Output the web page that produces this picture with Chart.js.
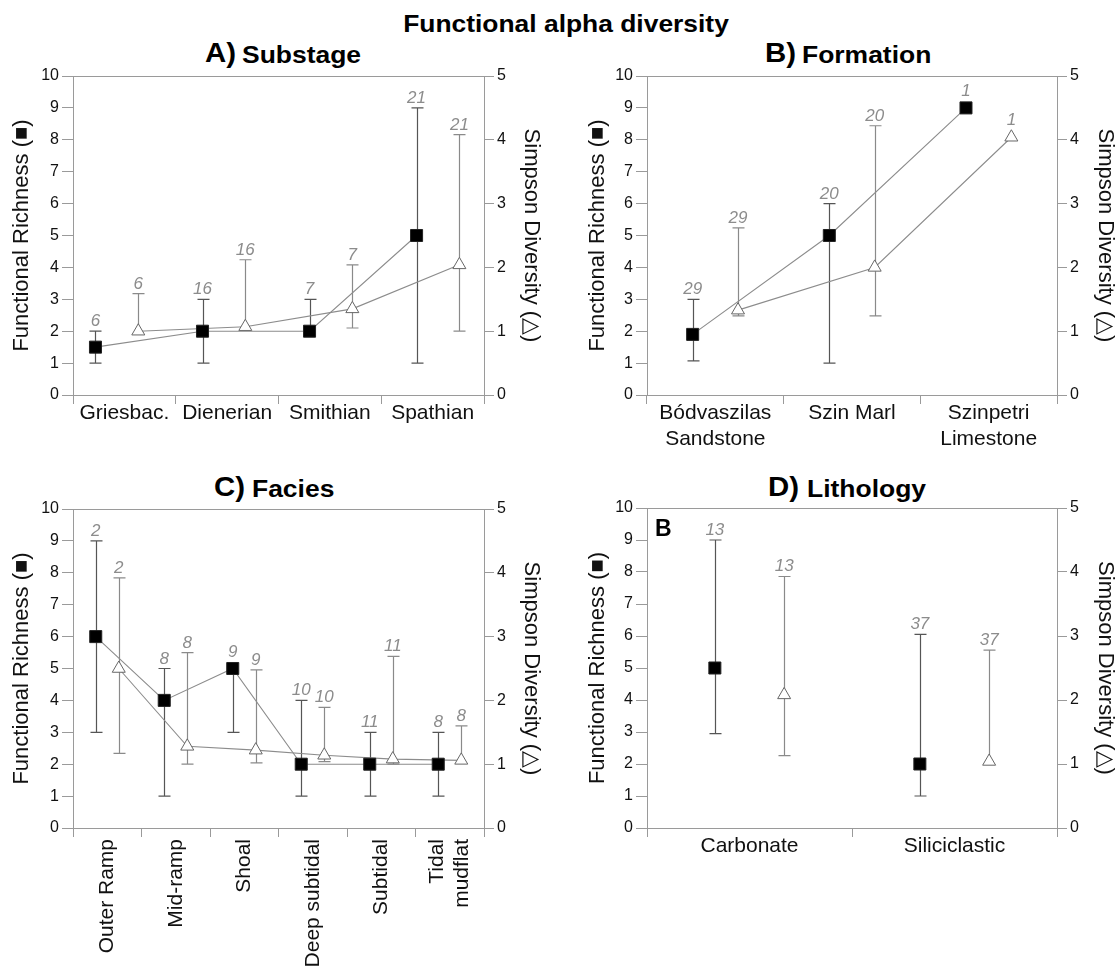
<!DOCTYPE html>
<html>
<head>
<meta charset="utf-8">
<title>Functional alpha diversity</title>
<script src="https://cdn.jsdelivr.net/npm/chart.js@4.4.1/dist/chart.umd.min.js"></script>
<style>
  html, body { margin: 0; padding: 0; background: #fff; }
  #fig { position: relative; width: 1118px; height: 971px; overflow: hidden;
         font-family: "Liberation Sans", Arial, Helvetica, sans-serif; color: #000; }
  #fig canvas { position: absolute; }
  .t { position: absolute; white-space: nowrap; font-weight: bold; line-height: 1; }
  .main { font-size: 24px; transform: translateX(-50%) scaleX(1.1); transform-origin: center; }
  .letter { font-size: 28px; transform: scaleX(1.05); transform-origin: left; }
  .name { font-size: 23px; transform: scaleX(1.15); transform-origin: left; }
  .tag { font-size: 23px; }
</style>
</head>
<body>
<div id="fig">
  <div class="t main" style="left:566px; top:11.7px;">Functional alpha diversity</div>

  <div class="t letter" style="left:205px; top:39.3px;">A)</div>
  <div class="t name" style="left:242px; top:43.5px;">Substage</div>
  <div class="t letter" style="left:765px; top:39.3px;">B)</div>
  <div class="t name" style="left:802px; top:43.5px;">Formation</div>
  <div class="t letter" style="left:214px; top:473.3px;">C)</div>
  <div class="t name" style="left:252px; top:477.5px;">Facies</div>
  <div class="t letter" style="left:768px; top:473.3px;">D)</div>
  <div class="t name" style="left:807px; top:477.5px;">Lithology</div>

  <canvas id="cA" width="559" height="470" style="left:0; top:0;"></canvas>
  <canvas id="cB" width="559" height="470" style="left:559px; top:0;"></canvas>
  <canvas id="cC" width="559" height="501" style="left:0; top:470px;"></canvas>
  <canvas id="cD" width="559" height="501" style="left:559px; top:470px;"></canvas>

  <div class="t tag" style="left:655px; top:516.5px;">B</div>
</div>

<script>
// ---- A) Substage ----
const substageLabels = ['Griesbac.', 'Dienerian', 'Smithian', 'Spathian'];
const substageRichness = [1.5, 2, 2, 5];
const substageRichnessLow = [1, 1, 2, 1];
const substageRichnessHigh = [2, 3, 3, 9];
const substageSimpson = [1.0, 1.07, 1.35, 2.04];
const substageSimpsonLow = [1.0, 1.07, 1.05, 1.0];
const substageSimpsonHigh = [1.59, 2.12, 2.04, 4.08];
const substageN = [6, 16, 7, 21];

// ---- B) Formation ----
const formationLabels = [['Bódvaszilas', 'Sandstone'], 'Szin Marl', ['Szinpetri', 'Limestone']];
const formationRichness = [1.9, 5, 9];
const formationRichnessLow = [1.07, 1, 9];
const formationRichnessHigh = [3, 6, 9];
const formationSimpson = [1.33, 2.0, 4.04];
const formationSimpsonLow = [1.24, 1.24, 4.04];
const formationSimpsonHigh = [2.62, 4.22, 4.04];
const formationN = [29, 20, 1];

// ---- C) Facies ----
const faciesLabels = ['Outer Ramp', 'Mid-ramp', 'Shoal', 'Deep subtidal', 'Subtidal', ['Tidal', 'mudflat']];
const faciesRichness = [6, 4, 5, 2, 2, 2];
const faciesRichnessLow = [3, 1, 3, 1, 1, 1];
const faciesRichnessHigh = [9, 5, 5, 4, 3, 3];
const faciesSimpson = [2.5, 1.28, 1.22, 1.14, 1.08, 1.06];
const faciesSimpsonLow = [1.17, 1.0, 1.02, 1.04, 1.0, 1.06];
const faciesSimpsonHigh = [3.92, 2.75, 2.48, 1.89, 2.69, 1.6];
const faciesN = [2, 8, 9, 10, 11, 8];

// ---- D) Lithology ----
const lithologyLabels = ['Carbonate', 'Siliciclastic'];
const lithologyRichness = [5, 2];
const lithologyRichnessLow = [2.95, 1];
const lithologyRichnessHigh = [9, 6.05];
const lithologySimpson = [2.08, 1.04];
const lithologySimpsonLow = [1.13, 1.04];
const lithologySimpsonHigh = [3.93, 2.78];
const lithologyN = [13, 37];

// axis tick values
const richnessTicks = [0, 1, 2, 3, 4, 5, 6, 7, 8, 9, 10];
const simpsonTicks = [0, 1, 2, 3, 4, 5];

const FONT = '"Liberation Sans", Arial, Helvetica, sans-serif';
const AXIS = '#9a9a9a';
const LINE = '#8c8c8c';
const COUNT = '#8c8c8c';
const CAT_SIZE = 21;
const CAT_LINE = 25.2;

// thin frame line closing the top of each plot box
const frame = {
  id: 'frame',
  beforeDatasetsDraw(chart) {
    const { ctx, chartArea: a } = chart;
    ctx.save();
    ctx.strokeStyle = AXIS;
    ctx.lineWidth = 1;
    ctx.beginPath();
    ctx.moveTo(a.left, Math.round(a.top) + 0.5);
    ctx.lineTo(a.right, Math.round(a.top) + 0.5);
    ctx.stroke();
    ctx.restore();
  }
};

// vertical category names, multi-line names centred on their bin
const rotatedLabels = {
  id: 'rotatedLabels',
  afterDraw(chart, args, opts) {
    if (!opts.enabled) return;
    const s = chart.scales.xc;
    const ctx = chart.ctx;
    const y = s.top + 9 + opts.pad;
    chart.data.labels.forEach((lab, i) => {
      const lines = Array.isArray(lab) ? lab : [lab];
      const x = s.getPixelForTick(i);
      lines.forEach((txt, k) => {
        ctx.save();
        ctx.font = CAT_SIZE + 'px ' + FONT;
        ctx.fillStyle = '#111';
        ctx.textAlign = 'right';
        ctx.textBaseline = 'middle';
        ctx.translate(x + (k - (lines.length - 1) / 2) * CAT_LINE, y);
        ctx.rotate(-Math.PI / 2);
        ctx.fillText(txt, 0, 0);
        ctx.restore();
      });
    });
  }
};

// range bars behind the markers, sample counts above them
const errorBars = {
  id: 'errorBars',
  beforeDatasetsDraw(chart) {
    const ctx = chart.ctx;
    chart.data.datasets.forEach((ds, di) => {
      const meta = chart.getDatasetMeta(di);
      const ys = chart.scales[ds.yAxisID];
      ds.data.forEach((pt, i) => {
        const el = meta.data[i];
        const x = Math.round(el.x) + 0.5;
        const yl = ys.getPixelForValue(ds.low[i]);
        const yh = ys.getPixelForValue(ds.high[i]);
        ctx.save();
        ctx.strokeStyle = ds.barColor;
        ctx.lineWidth = 1.2;
        ctx.beginPath();
        ctx.moveTo(x, yl);
        ctx.lineTo(x, yh);
        if (ds.high[i] > pt.y) { ctx.moveTo(x - 6, yh); ctx.lineTo(x + 6, yh); }
        if (ds.low[i] < pt.y) { ctx.moveTo(x - 6, yl); ctx.lineTo(x + 6, yl); }
        ctx.stroke();
        ctx.restore();
      });
    });
  },
  afterDatasetsDraw(chart) {
    const ctx = chart.ctx;
    chart.data.datasets.forEach((ds, di) => {
      const meta = chart.getDatasetMeta(di);
      const ys = chart.scales[ds.yAxisID];
      ds.data.forEach((pt, i) => {
        const el = meta.data[i];
        const top = ds.high[i] > pt.y ? ys.getPixelForValue(ds.high[i]) : el.y - ds.half;
        ctx.save();
        ctx.font = 'italic 17px ' + FONT;
        ctx.fillStyle = COUNT;
        ctx.textAlign = 'center';
        ctx.textBaseline = 'alphabetic';
        ctx.fillText(String(ds.counts[i]), el.x, top - 5);
        ctx.restore();
      });
    });
  }
};

function panel(id, p) {
  const squares = p.richness.map((v, i) => ({ x: i - p.offset, y: v }));
  const triangles = p.simpson.map((v, i) => ({ x: i + p.offset, y: v }));
  const tickFont = { family: FONT, size: 16 };
  const titleFont = { family: FONT, size: 22 };
  new Chart(document.getElementById(id), {
    type: 'scatter',
    data: {
      labels: p.labels,
      datasets: [
        {
          label: 'Functional Richness', data: squares, xAxisID: 'xl', yAxisID: 'y',
          showLine: p.lines, borderColor: LINE, borderWidth: 1.1, clip: false,
          pointStyle: 'rect', pointRadius: 8.5, pointHoverRadius: 8.5,
          pointBackgroundColor: '#000', pointBorderColor: '#222', pointBorderWidth: 1,
          low: p.richnessLow, high: p.richnessHigh, counts: p.n, barColor: '#555', half: 6.5
        },
        {
          label: 'Simpson Diversity', data: triangles, xAxisID: 'xl', yAxisID: 'y2',
          showLine: p.lines, borderColor: LINE, borderWidth: 1.1, clip: false,
          pointStyle: 'triangle', pointRadius: 7.5, pointHoverRadius: 7.5,
          pointBackgroundColor: '#fff', pointBorderColor: '#666', pointBorderWidth: 1,
          low: p.simpsonLow, high: p.simpsonHigh, counts: p.n, barColor: '#8a8a8a', half: 7.5
        }
      ]
    },
    options: {
      responsive: false,
      animation: false,
      devicePixelRatio: 1,
      layout: { padding: { top: p.padTop, bottom: p.padBottom, left: 0, right: 0 } },
      plugins: {
        legend: { display: false },
        tooltip: { enabled: false },
        rotatedLabels: { enabled: p.vertical, pad: 2 }
      },
      scales: {
        xc: {
          type: 'category', position: 'bottom', offset: true,
          grid: { offset: true, drawOnChartArea: false, drawTicks: true, tickLength: 9,
                  color: AXIS, tickColor: AXIS, tickWidth: 1 },
          border: { color: AXIS, width: 1 },
          ticks: { display: !p.vertical, font: { family: FONT, size: CAT_SIZE, lineHeight: 1.2 },
                   color: '#111', padding: -3, autoSkip: false, maxRotation: 0, minRotation: 0 },
          afterFit(s) { s.height = p.xHeight; }
        },
        xl: { type: 'linear', display: false, min: p.xMin, max: p.xMax },
        y: {
          position: 'left', min: 0, max: 10,
          afterBuildTicks(s) { s.ticks = richnessTicks.map(v => ({ value: v })); },
          grid: { drawOnChartArea: false, drawTicks: true, tickLength: 11, color: AXIS, tickColor: AXIS },
          border: { color: AXIS, width: 1 },
          ticks: { font: tickFont, color: '#111', padding: 3 },
          title: { display: true, text: 'Functional Richness (■)', font: titleFont, color: '#111',
                   padding: { top: p.leftTitlePad, bottom: 0 } },
          afterFit(s) { s.width = p.leftWidth; }
        },
        y2: {
          position: 'right', min: 0, max: 5,
          afterBuildTicks(s) { s.ticks = simpsonTicks.map(v => ({ value: v })); },
          grid: { drawOnChartArea: false, drawTicks: true, tickLength: 10, color: AXIS, tickColor: AXIS },
          border: { color: AXIS, width: 1 },
          ticks: { font: tickFont, color: '#111', padding: 3 },
          title: { display: true, text: 'Simpson Diversity (△)', font: titleFont, color: '#111',
                   padding: { top: p.rightTitlePad, bottom: 0 } },
          afterFit(s) { s.width = p.rightWidth; }
        }
      }
    },
    plugins: [frame, errorBars, rotatedLabels]
  });
}

panel('cA', {
  labels: substageLabels, richness: substageRichness, richnessLow: substageRichnessLow,
  richnessHigh: substageRichnessHigh, simpson: substageSimpson, simpsonLow: substageSimpsonLow,
  simpsonHigh: substageSimpsonHigh, n: substageN, lines: true,
  offset: 0.2, xMin: -0.41, xMax: 3.43,
  padTop: 76, padBottom: 15, xHeight: 60, vertical: false,
  leftWidth: 73, rightWidth: 75, leftTitlePad: 9, rightTitlePad: 15
});

panel('cB', {
  labels: formationLabels, richness: formationRichness, richnessLow: formationRichnessLow,
  richnessHigh: formationRichnessHigh, simpson: formationSimpson, simpsonLow: formationSimpsonLow,
  simpsonHigh: formationSimpsonHigh, n: formationN, lines: true,
  offset: 0.166, xMin: -0.5, xMax: 2.5,
  padTop: 76, padBottom: 15, xHeight: 60, vertical: false,
  leftWidth: 88, rightWidth: 61, leftTitlePad: 26, rightTitlePad: 0
});

panel('cC', {
  labels: faciesLabels, richness: faciesRichness, richnessLow: faciesRichnessLow,
  richnessHigh: faciesRichnessHigh, simpson: faciesSimpson, simpsonLow: faciesSimpsonLow,
  simpsonHigh: faciesSimpsonHigh, n: faciesN, lines: true,
  offset: 0.168, xMin: -0.5, xMax: 5.5,
  padTop: 39, padBottom: 3, xHeight: 140, vertical: true,
  leftWidth: 73, rightWidth: 75, leftTitlePad: 9, rightTitlePad: 15
});

panel('cD', {
  labels: lithologyLabels, richness: lithologyRichness, richnessLow: lithologyRichnessLow,
  richnessHigh: lithologyRichnessHigh, simpson: lithologySimpson, simpsonLow: lithologySimpsonLow,
  simpsonHigh: lithologySimpsonHigh, n: lithologyN, lines: false,
  offset: 0.169, xMin: -0.5, xMax: 1.5,
  padTop: 38, padBottom: 83, xHeight: 60, vertical: false,
  leftWidth: 88, rightWidth: 61, leftTitlePad: 26, rightTitlePad: 0
});
</script>
</body>
</html>
